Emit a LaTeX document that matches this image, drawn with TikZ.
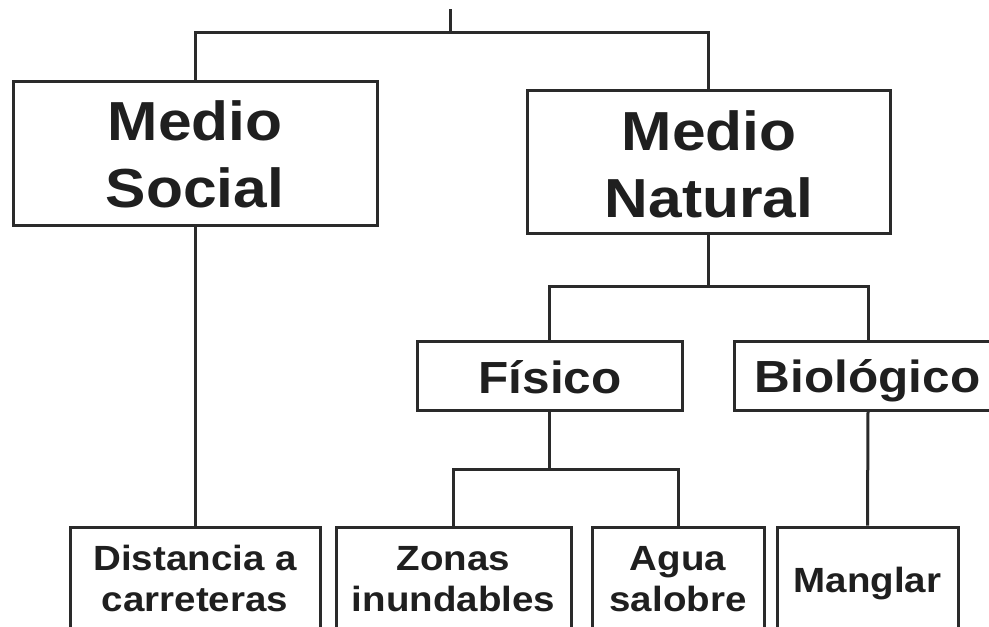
\documentclass[tikz,border=0pt]{standalone}
\usepackage{fontspec}
\newfontfamily\diagfont{Liberation Sans}[FakeStretch=1.1]
\definecolor{ink}{HTML}{2A2A2A}
\definecolor{txt}{HTML}{1F1F1F}
\begin{document}
\begin{tikzpicture}[x=1pt,y=-1pt,
  box/.style={draw=ink, line width=3pt, fill=white, rectangle, inner sep=0pt},
  conn/.style={draw=ink, line width=3pt},
  lab/.style={inner sep=0pt, anchor=base, text=txt},
  big/.style={lab, font=\diagfont\bfseries\fontsize{55}{67}\selectfont},
  mid/.style={lab, font=\diagfont\bfseries\fontsize{45}{54}\selectfont},
  small/.style={lab, font=\diagfont\bfseries\fontsize{35}{41}\selectfont}]
\useasboundingbox (0,0) rectangle (989,627);
\clip (0,0) rectangle (989,627);
\fill[white] (0,0) rectangle (989,627);
% boxes
\node[box, minimum width=364pt, minimum height=144pt] (social) at (195,153) {};
\node[box, minimum width=363pt, minimum height=143pt] (natural) at (708.5,161.5) {};
\node[box, minimum width=265pt, minimum height=69pt] (fisico) at (549.5,375.5) {};
\node[box, minimum width=268pt, minimum height=69pt] (bio) at (868,375.5) {};
\node[box, minimum width=250pt, minimum height=133pt] (dist) at (195,593.5) {};
\node[box, minimum width=235pt, minimum height=133pt] (zonas) at (453.5,593.5) {};
\node[box, minimum width=172pt, minimum height=133pt] (agua) at (678,593.5) {};
\node[box, minimum width=181pt, minimum height=133pt] (manglar) at (867.5,593.5) {};
% connectors
\coordinate (stem) at (450,9);
\coordinate (j1) at (450,32);
\coordinate (j2) at (708.5,286);
\coordinate (j3) at (549.5,469);
\draw[conn] (stem) -- (j1);
\draw[conn] (social.north) |- (j1) -| (natural.north);
\draw[conn] (natural.south) -- (j2);
\draw[conn] (fisico.north) |- (j2) -| (bio.north);
\draw[conn] (fisico.south) -- (j3);
\draw[conn] (zonas.north) |- (j3) -| (agua.north);
\draw[conn] (bio.south) -- (manglar.north);
\draw[conn] (social.south) -- (dist.north);
% labels
\node[big] (tsocial) at (195,140) {\begin{tabular}[t]{@{}c@{}}Medio\\Social\end{tabular}};
\node[big] (tnatural) at (709,150) {\begin{tabular}[t]{@{}c@{}}Medio\\Natural\end{tabular}};
\node[mid] (tfisico) at (550,393) {Físico};
\node[mid] (tbio) at (867.5,392) {Biológico};
\node[small] (tdist) at (195,570) {\begin{tabular}[t]{@{}c@{}}Distancia a\\carreteras\end{tabular}};
\node[small] (tzonas) at (453.5,570) {\begin{tabular}[t]{@{}c@{}}Zonas\\inundables\end{tabular}};
\node[small] (tagua) at (678,570) {\begin{tabular}[t]{@{}c@{}}Agua\\salobre\end{tabular}};
\node[small] (tmanglar) at (867.5,592) {Manglar};
\end{tikzpicture}
\end{document}
